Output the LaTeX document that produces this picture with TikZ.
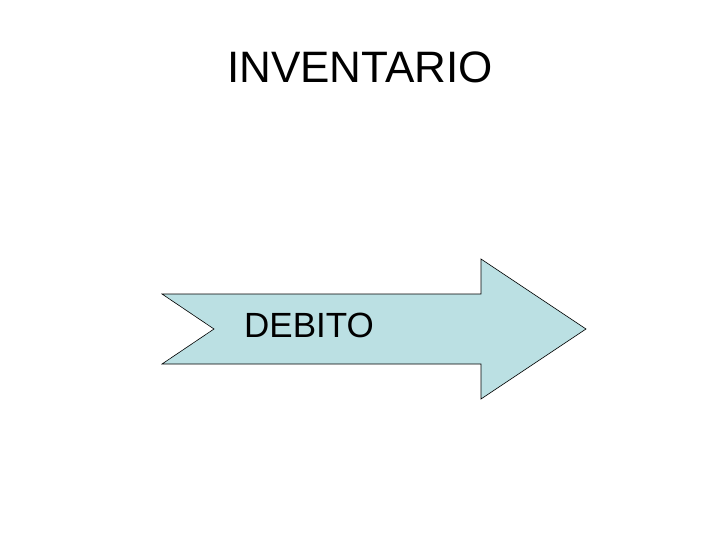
\documentclass[tikz,border=0pt]{standalone}
\usepackage{fontspec}
\setmainfont{Liberation Sans}
\usetikzlibrary{positioning, calc}

\definecolor{arrowfill}{RGB}{187,224,227}

\begin{document}
\begin{tikzpicture}[
  x=1pt, y=-1pt,
  ttl/.style={font=\fontsize{44}{52}\selectfont, anchor=base, inner sep=0pt},
  lbl/.style={font=\fontsize{35}{42}\selectfont, anchor=base, inner sep=0pt},
  bigarr/.style={draw=black, line width=0.6pt, fill=arrowfill, line join=miter}
]
\useasboundingbox (0,0) rectangle (720,540);

% ================= TITLE =================
\node[ttl] (title) at (360,83) {INVENTARIO};

% ================= ARROW =================
\coordinate (tl) at (162,294);
\coordinate (notch) at (214,329);
\coordinate (tip) at (586,329);
\draw[bigarr] (tl) -- (481,294) -- (481,259) -- (tip) -- (481,399)
  -- (481,364) -- (162,364) -- (notch) -- cycle;
\node[lbl] (deb) at (309,337) {DEBITO};
\end{tikzpicture}
\end{document}
